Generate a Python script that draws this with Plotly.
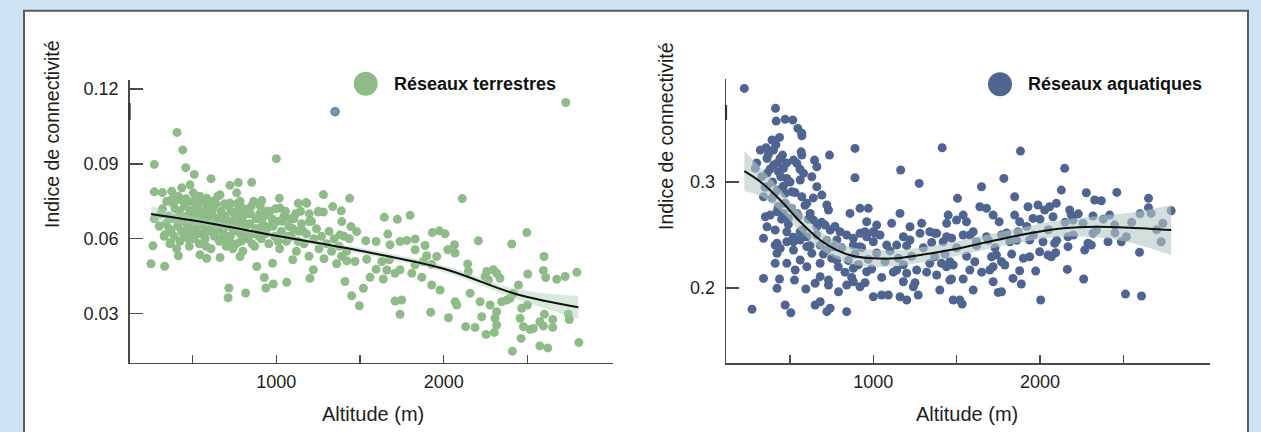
import plotly.graph_objects as go

W, H = 1261, 432

# ---------------- data: terrestrial networks ----------------
terr_alt = [
    407, 441, 271, 459, 510, 610, 1000, 853, 773, 723, 271, 319, 375, 435, 484, 504, 544, 584, 664, 763,
    913, 1018, 1131, 1177, 1251, 375, 425, 465, 624, 723, 783, 823, 1022,
    271, 263, 251, 333, 333, 369, 415, 544, 584, 664, 783, 883, 978, 928, 937, 982, 1062, 716, 712, 817,
    1098, 1201, 1221,
    2729, 1281, 1438, 2111, 1645, 1723, 1799, 1337, 1388, 1182, 1251, 1281, 1391,
    1197, 1197, 1446, 1480, 1381, 1436, 1534, 1596, 1666, 1679, 1739, 1779, 1829, 1888, 1829, 1932, 1974,
    2008, 2024, 2068, 2064, 2207, 2406, 2496, 2599, 2595, 2609, 2675, 2725, 2795, 2502, 2446, 1421, 1470,
    1540, 1596, 1660, 1630, 1675, 1560, 1639, 1410, 1520, 1450, 1496, 1709, 1749, 1739, 1709, 1739, 1809,
    1829, 1878, 1928, 1958, 1898, 1869, 1928, 1978, 1922, 2028, 2068, 2078, 2131, 2187, 2143, 2147, 2157,
    2217, 2227, 2247, 2267, 2257, 2296, 2316, 2336, 2277, 2316, 2346, 2376, 2396, 2416, 2306, 2316, 2302,
    2253, 2466, 2456, 2476, 2516, 2536, 2462, 2410, 2574, 2595, 2651, 2651, 2601, 2574, 2621, 2744, 2750,
    2807, 2500,
    320, 340, 355, 370, 385, 390, 400, 410, 420, 425, 435, 440, 450, 455, 465, 470, 480, 485, 490, 500,
    505, 510, 520, 525, 535, 540, 545, 555, 560, 570, 575, 585, 590, 600, 610, 615, 625, 630, 640, 645,
    655, 660, 670, 680, 685, 695, 700, 710, 715, 725, 735, 745, 750, 760, 770, 775, 785, 795, 800, 810,
    820, 830, 840, 850, 860, 870, 880, 890, 900, 910, 920, 935, 945, 955, 965, 975, 990, 1005, 1020, 1030,
    1045, 1060, 1075, 1090, 1105, 1120, 1135, 1150, 1165, 1180, 1195, 1210, 1225, 1240, 1255, 1270, 1285,
    1300, 1315, 1330, 1345, 1360, 1375, 1390, 1405, 1420,
    300, 310, 330, 345, 360, 365, 380, 395, 405, 415, 430, 445, 460, 475, 495, 515, 530, 550, 565, 580,
    595, 605, 620, 635, 650, 665, 675, 690, 705, 720, 730, 740, 755, 765, 780, 790, 805, 815, 825, 845,
    855, 865, 875, 895, 905, 925, 940, 960, 980, 995, 1010, 1035, 1055, 1070, 1085, 1100, 1115, 1130,
    1145, 1160,
]
terr_idx = [
    0.1026, 0.0956, 0.0898, 0.0885, 0.0858, 0.0841, 0.0921, 0.0826, 0.0825, 0.0814, 0.0788, 0.0785, 0.0790,
    0.0804, 0.0816, 0.0784, 0.0770, 0.0762, 0.0776, 0.0784,
    0.0753, 0.0762, 0.0742, 0.0745, 0.0710, 0.0757, 0.0757, 0.0743, 0.0750, 0.0743, 0.0750, 0.0716, 0.0723,
    0.0680, 0.0572, 0.0500, 0.0490, 0.0616, 0.0585, 0.0532, 0.0536, 0.0522, 0.0525, 0.0529, 0.0489, 0.0502,
    0.0445, 0.0403, 0.0419, 0.0426, 0.0403, 0.0364, 0.0383,
    0.0516, 0.0442, 0.0476,
    0.1146, 0.0777, 0.0762, 0.0761, 0.0686, 0.0678, 0.0694, 0.0729, 0.0712, 0.0742, 0.0707, 0.0707, 0.0669,
    0.0700, 0.0669, 0.0649, 0.0629, 0.0616, 0.0600, 0.0592, 0.0589, 0.0619, 0.0576, 0.0589, 0.0593, 0.0599,
    0.0573, 0.0556, 0.0625, 0.0632,
    0.0620, 0.0556, 0.0543, 0.0576, 0.0592, 0.0579, 0.0625, 0.0529, 0.0473, 0.0445, 0.0438, 0.0449, 0.0466,
    0.0459, 0.0415, 0.0512, 0.0509,
    0.0518, 0.0478, 0.0475, 0.0509, 0.0516, 0.0446, 0.0439, 0.0429, 0.0402, 0.0372, 0.0332, 0.0351, 0.0355,
    0.0298, 0.0462, 0.0476, 0.0462,
    0.0496, 0.0509, 0.0498, 0.0529, 0.0532, 0.0446, 0.0415, 0.0395, 0.0306, 0.0284, 0.0348, 0.0335, 0.0248,
    0.0245, 0.0499, 0.0469, 0.0382,
    0.0348, 0.0288, 0.0449, 0.0435, 0.0469, 0.0476, 0.0462, 0.0442, 0.0335, 0.0308, 0.0348, 0.0355, 0.0362,
    0.0382, 0.0282, 0.0255, 0.0225,
    0.0217, 0.0322, 0.0282, 0.0248, 0.0237, 0.0241, 0.0201, 0.0150, 0.0268, 0.0251, 0.0277, 0.0245, 0.0298,
    0.0171, 0.0163, 0.0299, 0.0277,
    0.0185, 0.0335,
    0.072, 0.066, 0.069, 0.063, 0.074, 0.061, 0.068, 0.065, 0.071, 0.059, 0.063, 0.067, 0.073, 0.061, 0.069,
    0.065, 0.057, 0.071, 0.063, 0.067,
    0.075, 0.060, 0.064, 0.069, 0.072, 0.058, 0.066, 0.062, 0.070, 0.065, 0.060, 0.073, 0.068, 0.063, 0.056,
    0.070, 0.066, 0.061, 0.074, 0.068,
    0.064, 0.059, 0.071, 0.066, 0.062, 0.069, 0.057, 0.065, 0.073, 0.061, 0.067, 0.063, 0.070, 0.058, 0.066,
    0.072, 0.062, 0.068, 0.055, 0.064,
    0.070, 0.060, 0.066, 0.073, 0.062, 0.057, 0.068, 0.064, 0.070, 0.060, 0.066, 0.062, 0.071, 0.058, 0.065,
    0.068, 0.061, 0.067, 0.056, 0.063,
    0.069, 0.059, 0.065, 0.061, 0.068, 0.055, 0.063, 0.066, 0.058, 0.062, 0.053, 0.067, 0.060, 0.064, 0.056,
    0.061, 0.052,
    0.058, 0.063, 0.055, 0.060, 0.050, 0.057, 0.053, 0.061, 0.055,
    0.065, 0.070, 0.061, 0.075, 0.064, 0.058, 0.068, 0.072, 0.056, 0.077, 0.069, 0.062, 0.076, 0.060, 0.070,
    0.073, 0.062, 0.075, 0.068, 0.057,
    0.071, 0.066, 0.072, 0.063, 0.077, 0.069, 0.060, 0.074, 0.067, 0.059, 0.071, 0.056, 0.064, 0.074, 0.069,
    0.059, 0.072, 0.066, 0.062, 0.070,
    0.058, 0.075, 0.064, 0.061, 0.073, 0.069, 0.064, 0.071, 0.065, 0.072, 0.059, 0.067, 0.071, 0.061, 0.068,
    0.064, 0.070, 0.059,
    0.071, 0.063,
]
# odd blue-ringed point in the terrestrial panel
odd_alt = [1351]
odd_idx = [0.1109]

# smoothed fit (terrestrial) with its confidence band
terr_fit_alt = [252, 600, 1000, 1500, 2000, 2436, 2804]
terr_fit = [0.0699, 0.0662, 0.0612, 0.0552, 0.0480, 0.0378, 0.0326]
terr_lo = [0.0669, 0.0648, 0.0600, 0.0540, 0.0467, 0.0358, 0.0280]
terr_hi = [0.0729, 0.0676, 0.0624, 0.0564, 0.0493, 0.0398, 0.0372]

# ---------------- data: aquatic networks ----------------
aqua_alt = [
    226, 413, 417, 471, 517, 547, 571, 571, 392, 437, 322, 356, 401, 455, 441, 567, 571, 647, 737, 890,
    1413, 1164, 1275, 890, 292, 362, 401, 362, 431, 461, 521, 541, 481, 581, 561, 631, 661, 362, 422, 471,
    511, 341, 392, 571, 661, 691, 601, 721, 731, 860, 920, 970, 352, 381, 422, 461, 491, 541, 621, 641,
    1160, 1110, 1220, 1290, 1380, 1440, 960, 1010, 950, 1020, 362, 411, 481, 561, 601, 661, 711, 741, 800,
    840, 341, 422, 521, 760, 880, 920, 1000,
    411, 441, 481, 521, 561, 601, 631, 681, 721, 781, 880, 920, 960, 1000, 1040, 1080, 1140, 1180, 1220,
    1280, 1339, 1440, 341, 422, 437, 527, 531, 481, 595, 651, 681, 731, 731, 791, 840, 880, 920, 471, 505,
    272, 651, 681, 721, 741, 840, 1000, 1050, 1090, 1160, 1200, 1269, 1180, 1240, 1140, 1200, 1260, 1339,
    1399, 1459, 422, 411, 561, 601, 681, 781, 880, 960,
    1883, 2148, 1783, 1649, 1848, 2128, 2278, 2328, 2368, 2461, 2651, 2651, 2787, 1505, 1449, 1539, 1499,
    1559, 1639, 1679, 1719, 1755, 1848, 1878, 1928, 1958, 1988, 2028, 2058, 2098, 2078, 2178, 2188, 2198,
    2318, 2418, 2448, 2258, 2338, 2518, 2667, 2737, 2727, 1369, 1419, 1539, 1599, 1619, 1679, 1769, 1819,
    1868, 1938, 2018, 2088, 2168, 2288, 2318, 2408, 2488,
    1409, 1459, 1479, 1439, 1380, 1469, 1539, 1479, 1519, 1533, 1579, 1609, 1599, 1709, 1739, 1769, 1719,
    1699, 1789, 1719, 1749, 1769, 1838, 1878, 1888, 1938, 1974, 1998, 2048, 2068, 2094, 2004, 2164, 2168,
    2262, 2268, 2308, 2513, 2597, 2609, 1369,
    300, 330, 350, 370, 380, 395, 405, 415, 425, 430, 445, 450, 460, 470, 480, 490, 500, 510, 520, 530,
    550, 560, 575, 590, 610, 620, 640, 660, 690, 700, 720, 750, 770, 790, 810, 830, 850, 870, 890, 910,
    930, 950, 970, 990, 1020, 1050, 1070, 1100, 1120, 1150, 1180, 1200, 1230, 1250, 1300, 1320, 1350, 1430,
    1470, 1500, 1560, 1580, 1620, 1650, 1690, 1730, 1800, 1830, 1860, 1900, 1920, 1960, 2000, 2050, 2100,
    2150, 2200, 2230, 2380, 2450, 2550, 2600, 2700,
]
aqua_idx = [
    0.3883, 0.3695, 0.3575, 0.3591, 0.3584, 0.3506, 0.3459, 0.3436, 0.3396, 0.3421, 0.3301, 0.3323, 0.3301,
    0.3254, 0.3223, 0.3285, 0.3254, 0.3207, 0.3254, 0.3317,
    0.3323, 0.3113, 0.2987, 0.3040, 0.3129, 0.3223, 0.3160, 0.3082, 0.3097, 0.3129, 0.3207, 0.3176, 0.3034,
    0.3082, 0.3019, 0.3050, 0.3144, 0.2955, 0.2924, 0.2893,
    0.2908, 0.2861, 0.2846, 0.2861, 0.2955, 0.2877, 0.2799, 0.2783, 0.2736, 0.2704, 0.2752, 0.2752, 0.2672,
    0.2688, 0.2720, 0.2704, 0.2657, 0.2704, 0.2704, 0.2641,
    0.2704, 0.2610, 0.2578, 0.2610, 0.2516, 0.2610, 0.2625, 0.2516, 0.2531, 0.2594, 0.2578, 0.2547, 0.2531,
    0.2531, 0.2484, 0.2578, 0.2594, 0.2547, 0.2531,
    0.2500, 0.2469, 0.2422, 0.2437, 0.2390, 0.2405, 0.2390, 0.2437,
    0.2405, 0.2374, 0.2437, 0.2358, 0.2453, 0.2390, 0.2327, 0.2405, 0.2358, 0.2453, 0.2469, 0.2516, 0.2484,
    0.2531, 0.2500, 0.2405, 0.2405, 0.2484, 0.2453,
    0.2516, 0.2531, 0.2484, 0.2091, 0.1997, 0.2085, 0.2075, 0.2170, 0.2233, 0.1991, 0.2044, 0.2107, 0.2075,
    0.2028, 0.1965, 0.2028, 0.2059, 0.2012, 0.1840, 0.1767,
    0.1799, 0.1840, 0.1871, 0.1777, 0.1809, 0.1777, 0.1918, 0.1934, 0.1934, 0.1918, 0.1887, 0.1934, 0.2059,
    0.2012, 0.2170, 0.2139, 0.2170, 0.2233,
    0.1981, 0.2075, 0.2327, 0.2233, 0.2264, 0.2201, 0.2233, 0.2264, 0.2186, 0.2154,
    0.3292, 0.3129, 0.3034, 0.2955, 0.2861, 0.2924, 0.2899, 0.2830, 0.2823, 0.2902, 0.2846, 0.2757, 0.2729,
    0.2846, 0.2688, 0.2688, 0.2641,
    0.2625, 0.2767, 0.2752, 0.2688, 0.2625, 0.2688, 0.2625, 0.2767, 0.2657, 0.2783, 0.2736, 0.2767, 0.2799,
    0.2672, 0.2736, 0.2688, 0.2641,
    0.2679, 0.2688, 0.2594, 0.2610, 0.2547, 0.2484, 0.2704, 0.2610, 0.2437, 0.2516, 0.2437, 0.2500, 0.2531,
    0.2437, 0.2484, 0.2500, 0.2437,
    0.2531, 0.2453, 0.2437, 0.2422, 0.2484, 0.2422, 0.2516, 0.2437, 0.2437,
    0.2233, 0.2248, 0.2217, 0.2201, 0.2123, 0.2085, 0.2085, 0.1887, 0.1887, 0.1849, 0.2170, 0.2248, 0.1981,
    0.2295, 0.2311, 0.2248, 0.2201,
    0.2170, 0.2217, 0.2059, 0.1959, 0.1965, 0.2091, 0.2163, 0.2038, 0.2295, 0.2160, 0.2342, 0.2311, 0.2295,
    0.2333, 0.1887, 0.2176, 0.2390,
    0.2085, 0.2358, 0.2405, 0.1943, 0.2337, 0.1925, 0.2295,
    0.318, 0.305, 0.295, 0.326, 0.312, 0.300, 0.288, 0.335, 0.318, 0.277, 0.305, 0.265, 0.296, 0.280, 0.318,
    0.260, 0.300, 0.275, 0.248, 0.290,
    0.268, 0.312, 0.255, 0.278, 0.265, 0.240, 0.285, 0.250, 0.262, 0.232, 0.245, 0.228, 0.258, 0.220, 0.238,
    0.215, 0.226, 0.210, 0.232, 0.222,
    0.238, 0.205, 0.227, 0.218, 0.233, 0.210, 0.225, 0.235, 0.215, 0.228, 0.222, 0.240, 0.230, 0.205, 0.238,
    0.215, 0.243, 0.232,
    0.247, 0.238, 0.230, 0.250, 0.240, 0.215, 0.245, 0.238, 0.252, 0.232, 0.245, 0.228, 0.258, 0.250, 0.265,
    0.255, 0.245,
    0.262, 0.250, 0.270, 0.265, 0.252, 0.262, 0.270, 0.255,
]

aqua_fit_alt = [226, 322, 441, 561, 681, 781, 880, 1000, 1140, 1280, 1459, 1739, 1938, 2138, 2338, 2537, 2787]
aqua_fit = [0.3103, 0.3003, 0.2830, 0.2625, 0.2453, 0.2358, 0.2302, 0.2280, 0.2280, 0.2311, 0.2358, 0.2453,
            0.2516, 0.2563, 0.2578, 0.2569, 0.2547]
aqua_lo = [0.2913, 0.2868, 0.2730, 0.2535, 0.2368, 0.2276, 0.2222, 0.2200, 0.2205, 0.2239, 0.2288, 0.2385,
           0.2446, 0.2483, 0.2478, 0.2429, 0.2311]
aqua_hi = [0.3293, 0.3138, 0.2930, 0.2715, 0.2538, 0.2440, 0.2382, 0.2360, 0.2355, 0.2383, 0.2428, 0.2521,
           0.2586, 0.2643, 0.2678, 0.2709, 0.2783]

# ---------------- styling ----------------
GREEN = "#8fbb89"
BLUE = "#4f6490"
AX = "#4a4a4a"
TXT = "#1e1e1e"
FONT = "Liberation Sans, Arial, sans-serif"


def px_x(p):
    return p / W


def px_y(p):
    return (H - p) / H


fig = go.Figure()


def band(xs, lo, hi, color, xa, ya):
    fig.add_trace(go.Scatter(x=xs, y=lo, mode="lines", line=dict(width=0, shape="spline"),
                             xaxis=xa, yaxis=ya, hoverinfo="skip"))
    fig.add_trace(go.Scatter(x=xs, y=hi, mode="lines", line=dict(width=0, shape="spline"),
                             fill="tonexty", fillcolor=color, xaxis=xa, yaxis=ya, hoverinfo="skip"))


# terrestrial panel
fig.add_trace(go.Scatter(x=terr_alt, y=terr_idx, mode="markers", xaxis="x", yaxis="y",
                         marker=dict(size=9, color=GREEN, line=dict(width=0)), hoverinfo="skip"))
fig.add_trace(go.Scatter(x=odd_alt, y=odd_idx, mode="markers", xaxis="x", yaxis="y",
                         marker=dict(size=8, color="#7d9c8e", line=dict(width=1.5, color="#4f86bd")),
                         hoverinfo="skip"))
band(terr_fit_alt, terr_lo, terr_hi, "rgba(170,208,180,0.45)", "x", "y")
fig.add_trace(go.Scatter(x=terr_fit_alt, y=terr_fit, mode="lines", line=dict(color="#111111", width=2,
                         shape="spline"), xaxis="x", yaxis="y", hoverinfo="skip"))

# aquatic panel
fig.add_trace(go.Scatter(x=aqua_alt, y=aqua_idx, mode="markers", xaxis="x2", yaxis="y2",
                         marker=dict(size=9, color=BLUE, line=dict(width=0)), hoverinfo="skip"))
band(aqua_fit_alt, aqua_lo, aqua_hi, "rgba(180,202,196,0.6)", "x2", "y2")
fig.add_trace(go.Scatter(x=aqua_fit_alt, y=aqua_fit, mode="lines", line=dict(color="#111111", width=2,
                         shape="spline"), xaxis="x2", yaxis="y2", hoverinfo="skip"))

xt_vals = [500, 1000, 1500, 2000, 2500]
xt_text = ["", "1000", "", "2000", ""]

common_x = dict(showgrid=False, zeroline=False, showline=True, linecolor=AX, linewidth=1.3,
                ticks="inside", ticklen=8, tickwidth=1.3, tickcolor=AX,
                tickvals=xt_vals, ticktext=xt_text, ticklabelstandoff=2,
                tickfont=dict(family=FONT, size=18, color=TXT), fixedrange=True)
common_y = dict(showgrid=False, zeroline=False, showline=True, linecolor=AX, linewidth=1.3,
                ticks="inside", ticklen=13, tickwidth=1.3, tickcolor=AX, ticklabelstandoff=6,
                tickfont=dict(family=FONT, size=18, color=TXT), fixedrange=True)

fig.update_layout(
    width=W, height=H, margin=dict(l=0, r=0, t=0, b=0),
    paper_bgcolor="#cde2f5", plot_bgcolor="rgba(0,0,0,0)", showlegend=False,
    xaxis=dict(domain=[px_x(129.5), px_x(613)], range=[123, 3011], anchor="y", **common_x),
    yaxis=dict(domain=[px_y(363), px_y(80)], range=[0.01026, 0.1236], anchor="x",
               tickvals=[0.03, 0.06, 0.09, 0.12], ticktext=["0.03", "0.06", "0.09", "0.12"], **common_y),
    xaxis2=dict(domain=[px_x(726), px_x(1210)], range=[116, 3020], anchor="y2", **common_x),
    yaxis2=dict(domain=[px_y(363.3), px_y(79.3)], range=[0.129, 0.3969], anchor="x2",
                tickvals=[0.2, 0.3], ticktext=["0.2", "0.3"], **common_y),
)

shapes = [
    # white panel with dark frame
    dict(type="rect", xref="paper", yref="paper", x0=px_x(24), x1=px_x(1248), y0=-0.05, y1=px_y(10.8),
         fillcolor="white", line=dict(color="#5c5c5c", width=2), layer="below"),
    # darker segments on the y axes
    dict(type="line", xref="paper", yref="paper", x0=px_x(129.5), x1=px_x(129.5), y0=px_y(120), y1=px_y(103),
         line=dict(color="#333333", width=2.2)),
    dict(type="line", xref="paper", yref="paper", x0=px_x(726), x1=px_x(726), y0=px_y(120), y1=px_y(105),
         line=dict(color="#333333", width=2.2)),
    # legend circles
    dict(type="circle", xref="paper", yref="paper", xsizemode="pixel", ysizemode="pixel",
         xanchor=px_x(365.7), yanchor=px_y(83.7), x0=-12, x1=12, y0=-12, y1=12,
         fillcolor=GREEN, line=dict(width=0)),
    dict(type="circle", xref="paper", yref="paper", xsizemode="pixel", ysizemode="pixel",
         xanchor=px_x(1000), yanchor=px_y(84.3), x0=-12, x1=12, y0=-12, y1=12,
         fillcolor=BLUE, line=dict(width=0)),
]
fig.update_layout(shapes=shapes)

ann = [
    dict(text="Réseaux terrestres", x=px_x(392), y=px_y(84), xanchor="left", yanchor="middle",
         font=dict(family=FONT, size=18, color="#111111", weight="bold")),
    dict(text="Réseaux aquatiques", x=px_x(1026), y=px_y(84), xanchor="left", yanchor="middle",
         font=dict(family=FONT, size=18, color="#111111", weight="bold")),
    dict(text="Altitude (m)", x=px_x(373), y=px_y(414), xanchor="center", yanchor="middle",
         font=dict(family=FONT, size=20, color=TXT)),
    dict(text="Altitude (m)", x=px_x(967), y=px_y(414), xanchor="center", yanchor="middle",
         font=dict(family=FONT, size=20, color=TXT)),
    dict(text="Indice de connectivité", x=px_x(52), y=px_y(134), xanchor="center", yanchor="middle",
         textangle=-90, font=dict(family=FONT, size=19.5, color=TXT)),
    dict(text="Indice de connectivité", x=px_x(666), y=px_y(136), xanchor="center", yanchor="middle",
         textangle=-90, font=dict(family=FONT, size=19.5, color=TXT)),
]
for a in ann:
    a.update(xref="paper", yref="paper", showarrow=False)
fig.update_layout(annotations=ann)

fig.write_html("out.html", config={"staticPlot": True})
